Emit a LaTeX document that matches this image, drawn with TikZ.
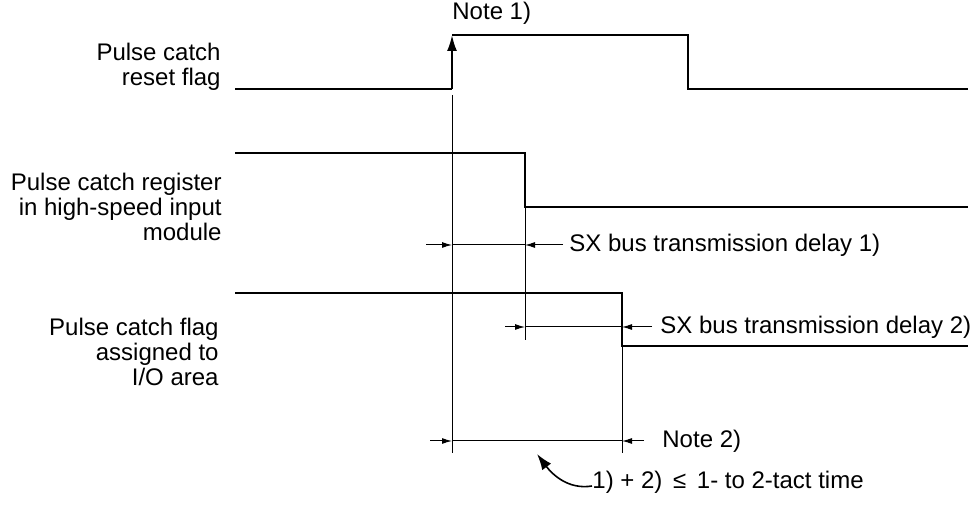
\documentclass[tikz,border=0pt]{standalone}
\usepackage{fontspec}
\setmainfont{Liberation Sans}
\usetikzlibrary{arrows.meta}

\begin{document}
\begin{tikzpicture}[x=0.5pt,y=-0.5pt,>=Latex,
  signal/.style={line width=1pt},
  guide/.style={line width=0.5pt},
  dimarrow/.style={-{Latex[length=5pt,width=3pt]},line width=0.5pt},
  txt/.style={font=\fontsize{12}{12.5}\selectfont,inner sep=0pt}]
\useasboundingbox (0,0) rectangle (972,506);

% signal names
\node[txt,align=right,anchor=east] (resetlbl) at (221,67) {Pulse catch\\reset flag};
\node[txt,align=right,anchor=east] (reglbl) at (222,207) {Pulse catch register\\in high-speed input\\module};
\node[txt,align=right,anchor=east] (flaglbl) at (219,352) {Pulse catch flag\\assigned to\\I/O area};

% waveforms
\draw[signal] (235,89) -- (452,89);
\draw[signal,-{Latex[length=8pt,width=5pt]}] (452,89) -- (452,35);
\draw[signal] (452,35) -- (688,35) -- (688,89) -- (968,89);
\draw[signal] (235,153) -- (525,153) -- (525,207) -- (968,207);
\draw[signal] (235,293) -- (622,293) -- (622,346) -- (968,346);

% time marks
\coordinate (ta) at (452,95);
\coordinate (ta1) at (452,245);
\coordinate (ta3) at (452,441);
\coordinate (tb) at (525,207);
\coordinate (tb1) at (525,245);
\coordinate (tb2) at (525,327);
\coordinate (tc) at (622,346);
\coordinate (tc2) at (622,327);
\coordinate (tc3) at (622,441);
\draw[guide] (ta) -- (452,453);
\draw[guide] (tb) -- (525,340);
\draw[guide] (tc) -- (622,453);

% delays
\draw[dimarrow] (426,245) -- (ta1);
\draw[guide] (ta1) -- (tb1);
\draw[dimarrow] (563,245) -- (tb1);
\draw[dimarrow] (505,327) -- (tb2);
\draw[guide] (tb2) -- (tc2);
\draw[dimarrow] (652,327) -- (tc2);
\draw[dimarrow] (430,441) -- (ta3);
\draw[guide] (ta3) -- (tc3);
\draw[dimarrow] (644,441) -- (tc3);

% notes
\node[txt,anchor=west] (note1) at (452,13) {Note 1)};
\node[txt,anchor=west] (delay1) at (569,245) {SX bus transmission delay 1)};
\node[txt,anchor=west] (delay2) at (660,327) {SX bus transmission delay 2)};
\node[txt,anchor=west] (note2) at (662,441) {Note 2)};
\node[txt,anchor=west] (sum) at (592,482) {1) + 2) \,≤\, 1- to 2-tact time};
\coordinate (sumtip) at (537,454);
\draw[line width=0.8pt,-{Latex[length=8pt,width=5.5pt]}] ([yshift=-2pt]sum.west) .. controls (568,490) and (552,474) .. (sumtip);
\end{tikzpicture}
\end{document}
